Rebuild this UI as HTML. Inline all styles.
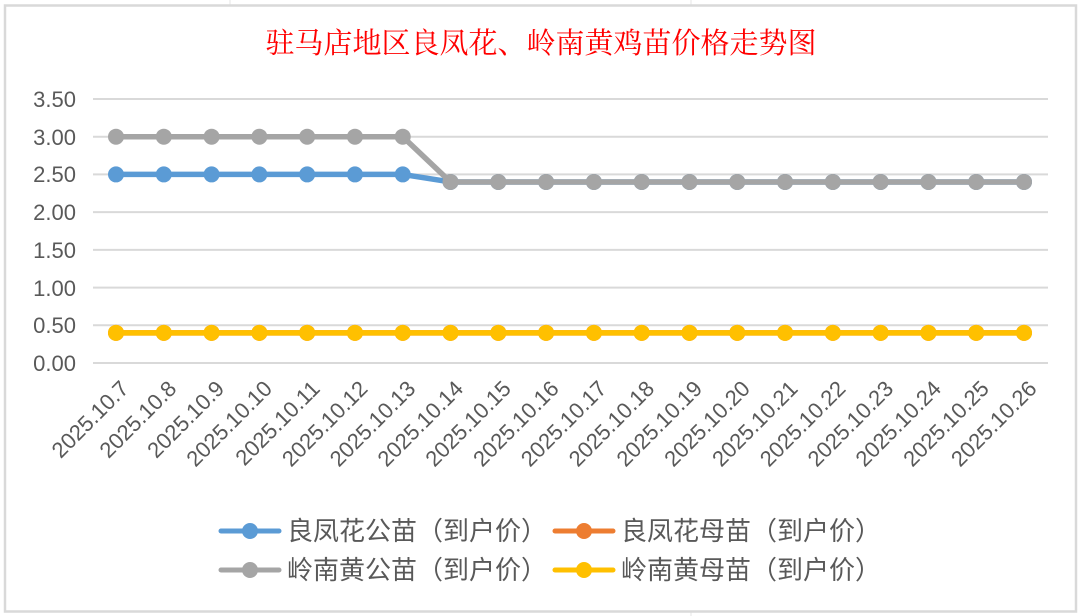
<!DOCTYPE html>
<html><head><meta charset="utf-8"><style>
html,body{margin:0;padding:0;background:#fff;}
svg{display:block}
</style></head><body>
<svg width="1084" height="616" xmlns="http://www.w3.org/2000/svg" font-family="Liberation Sans, Noto Sans CJK SC, sans-serif">
<rect x="0" y="0" width="1084" height="616" fill="#fff"/>
<g stroke="#e4e4e4" stroke-width="1">
<line x1="230" y1="0" x2="230" y2="5"/><line x1="691" y1="0" x2="691" y2="5"/><line x1="691" y1="612" x2="691" y2="616"/>
</g>
<rect x="5" y="5.5" width="1071" height="606" fill="#fff" stroke="#d9d9d9" stroke-width="2.5"/>
<text x="541" y="53" text-anchor="middle" fill="#ff0000" font-size="29" font-family="Liberation Serif, Noto Serif CJK SC, serif">驻马店地区良凤花、岭南黄鸡苗价格走势图</text>
<g stroke="#d9d9d9" stroke-width="2">
<line x1="93" y1="99" x2="1048" y2="99"/><line x1="93" y1="136.7" x2="1048" y2="136.7"/><line x1="93" y1="174.4" x2="1048" y2="174.4"/><line x1="93" y1="212.1" x2="1048" y2="212.1"/><line x1="93" y1="249.9" x2="1048" y2="249.9"/><line x1="93" y1="287.6" x2="1048" y2="287.6"/><line x1="93" y1="325.3" x2="1048" y2="325.3"/><line x1="93" y1="363" x2="1048" y2="363"/>
</g>
<g fill="#595959" font-size="22" text-anchor="end">
<text x="76" y="107">3.50</text><text x="76" y="145">3.00</text><text x="76" y="182">2.50</text><text x="76" y="220">2.00</text><text x="76" y="258">1.50</text><text x="76" y="296">1.00</text><text x="76" y="333">0.50</text><text x="76" y="371">0.00</text>
</g>
<g id="lines"></g>
<g id="labels" fill="#595959" font-size="22" text-anchor="end"></g>
<g font-size="26" fill="#595959" font-family="Liberation Sans, Noto Sans CJK SC, sans-serif">
<line x1="221" y1="531" x2="279" y2="531" stroke="#5b9bd5" stroke-width="5" stroke-linecap="round"/><circle cx="250" cy="531" r="8" fill="#5b9bd5"/>
<text x="287" y="540">良凤花公苗（到户价）</text>
<line x1="555" y1="531" x2="613" y2="531" stroke="#ed7d31" stroke-width="5" stroke-linecap="round"/><circle cx="584" cy="531" r="8" fill="#ed7d31"/>
<text x="621" y="540">良凤花母苗（到户价）</text>
<line x1="221" y1="570" x2="279" y2="570" stroke="#a5a5a5" stroke-width="5" stroke-linecap="round"/><circle cx="250" cy="570" r="8" fill="#a5a5a5"/>
<text x="287" y="579">岭南黄公苗（到户价）</text>
<line x1="555" y1="570" x2="613" y2="570" stroke="#ffc000" stroke-width="5" stroke-linecap="round"/><circle cx="584" cy="570" r="8" fill="#ffc000"/>
<text x="621" y="579">岭南黄母苗（到户价）</text>
</g>
</svg>
<script>
const ns="http://www.w3.org/2000/svg";
const X=i=>116+i*47.79, Y=v=>363-v*75.43;
const blue=[],gray=[],orange=[],yel=[];
for(let i=0;i<20;i++){blue.push(i<7?2.5:2.4);gray.push(i<7?3.0:2.4);orange.push(0.4);yel.push(0.4);}
const g=document.getElementById('lines');
function series(d,c){
 const p=document.createElementNS(ns,'polyline');
 p.setAttribute('points',d.map((v,i)=>X(i)+','+Y(v)).join(' '));
 p.setAttribute('fill','none');p.setAttribute('stroke',c);p.setAttribute('stroke-width','5.5');p.setAttribute('stroke-linejoin','round');
 g.appendChild(p);
 d.forEach((v,i)=>{const c2=document.createElementNS(ns,'circle');c2.setAttribute('cx',X(i));c2.setAttribute('cy',Y(v));c2.setAttribute('r','8');c2.setAttribute('fill',c);g.appendChild(c2);});
}
series(blue,'#5b9bd5');series(orange,'#ed7d31');series(gray,'#a5a5a5');series(yel,'#ffc000');
const L=document.getElementById('labels');
for(let i=0;i<20;i++){
 const t=document.createElementNS(ns,'text');
 const x=X(i)+14,y=390;
 t.setAttribute('x',x);t.setAttribute('y',y);
 t.setAttribute('transform','rotate(-45 '+x+' '+y+')');
 t.textContent='2025.10.'+(7+i);
 L.appendChild(t);
}
</script>
</body></html>
